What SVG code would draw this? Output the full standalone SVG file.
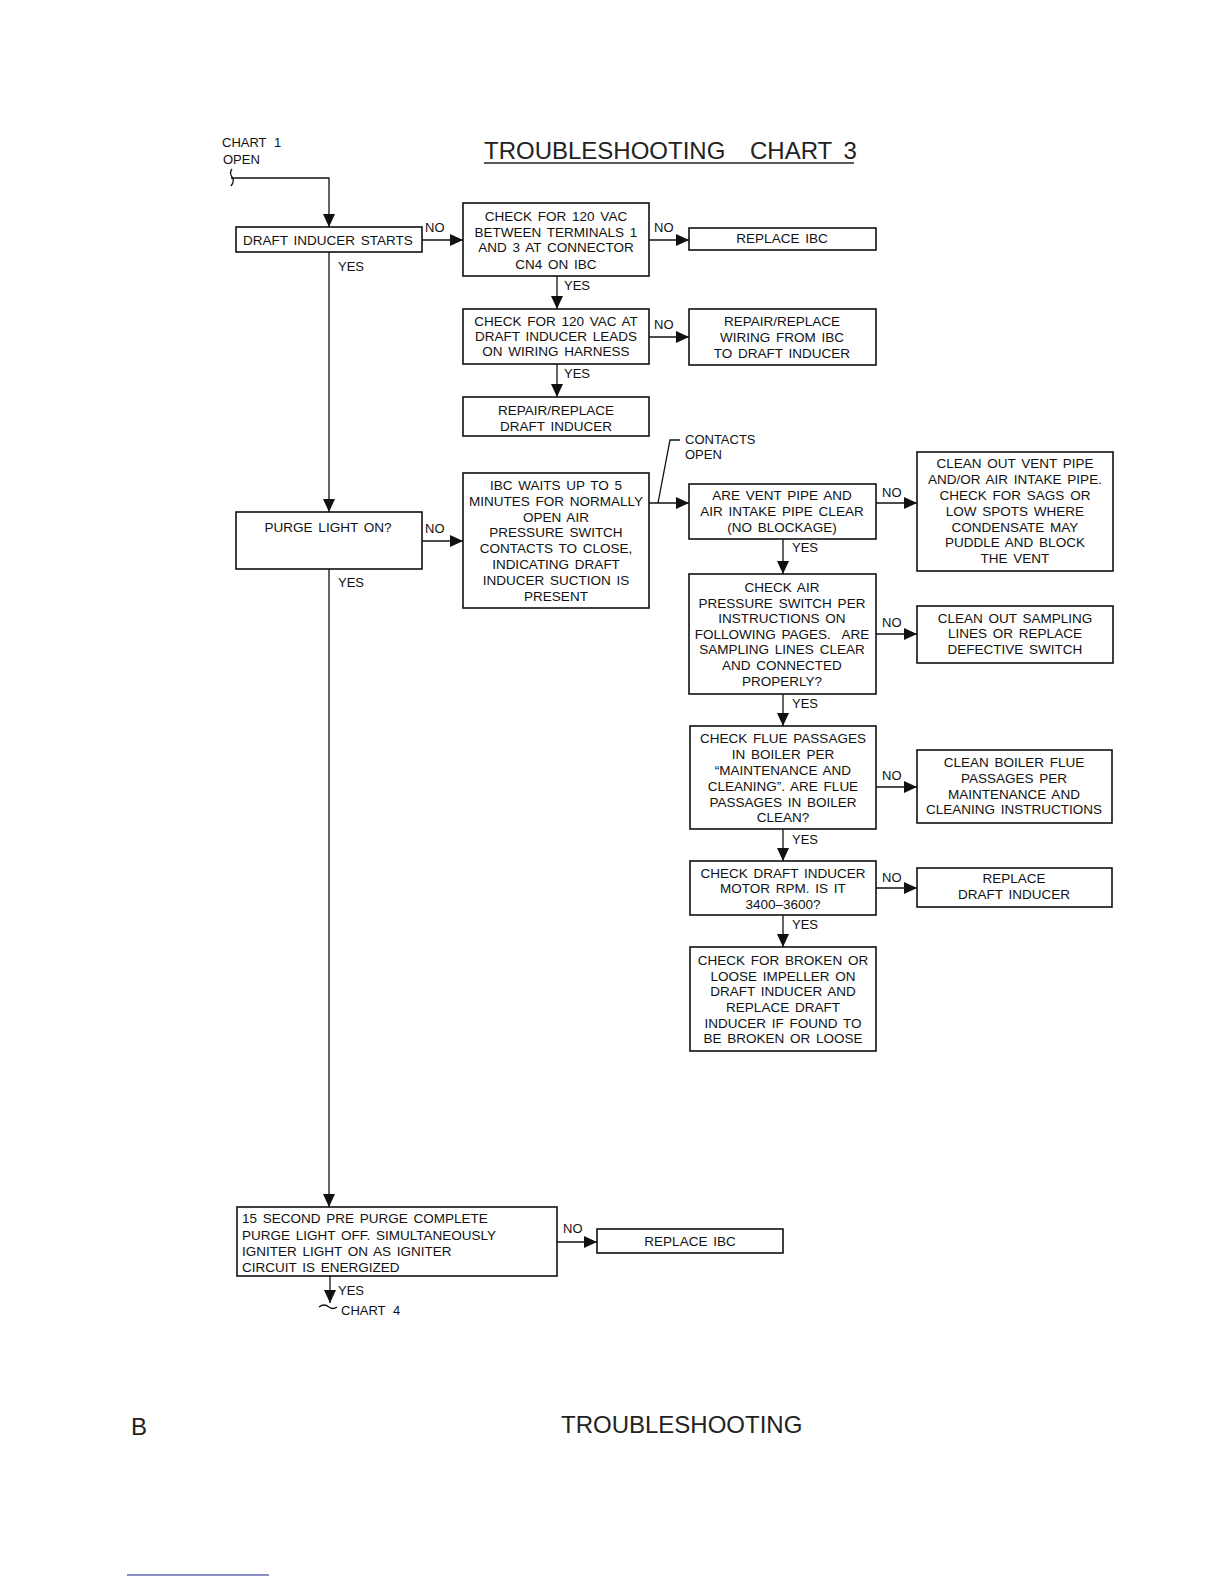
<svg xmlns="http://www.w3.org/2000/svg" width="1224" height="1584" viewBox="0 0 1224 1584">
<style>
.bg{fill:#fff}
.box{fill:none;stroke:#111;stroke-width:1.6}
.t{font-family:"Liberation Sans",Arial,sans-serif;font-size:13.5px;fill:#111;text-anchor:middle;word-spacing:2px}
.tl{font-family:"Liberation Sans",Arial,sans-serif;font-size:13.5px;fill:#111;text-anchor:start;word-spacing:2px}
.lbl{font-family:"Liberation Sans",Arial,sans-serif;font-size:13px;fill:#111;text-anchor:start;word-spacing:4px}
.c{stroke:#111;stroke-width:1.3;fill:none}
.title{font-family:"Liberation Sans",Arial,sans-serif;font-size:24px;fill:#222}
.foot{font-family:"Liberation Sans",Arial,sans-serif;font-size:24px;fill:#222}
</style>
<defs>
<marker id="arr" markerUnits="userSpaceOnUse" markerWidth="13" markerHeight="12" refX="13" refY="6" orient="auto">
<path d="M0,0 L13,6 L0,12 Z" fill="#111"/>
</marker>
</defs>
<rect class="bg" x="0" y="0" width="1224" height="1584"/>

<g id="title">
<text class="title" x="484" y="159">TROUBLESHOOTING</text>
<text class="title" x="750" y="159" word-spacing="5">CHART 3</text>
<line x1="484" y1="163" x2="854" y2="163" stroke="#222" stroke-width="1.5"/>
</g>

<g id="connectors">
<path class="c" d="M231,178 L329,178 L329,227" marker-end="url(#arr)"/>
<path class="c" d="M232,169 q-3,4 0,8 q3,4 -1,9"/>
<path class="c" d="M329,252 L329,512" marker-end="url(#arr)"/>
<path class="c" d="M329,569 L329,1207" marker-end="url(#arr)"/>
<path class="c" d="M422,240 L463,240" marker-end="url(#arr)"/>
<path class="c" d="M649,240 L689,240" marker-end="url(#arr)"/>
<path class="c" d="M557,276 L557,309" marker-end="url(#arr)"/>
<path class="c" d="M649,337 L689,337" marker-end="url(#arr)"/>
<path class="c" d="M557,364 L557,397" marker-end="url(#arr)"/>
<path class="c" d="M422,541 L463,541" marker-end="url(#arr)"/>
<path class="c" d="M649,503 L689,503" marker-end="url(#arr)"/>
<path class="c" d="M658,503 L670,440 L680,440"/>
<path class="c" d="M876,503 L917,503" marker-end="url(#arr)"/>
<path class="c" d="M783,539 L783,574" marker-end="url(#arr)"/>
<path class="c" d="M876,634 L917,634" marker-end="url(#arr)"/>
<path class="c" d="M783,694 L783,726" marker-end="url(#arr)"/>
<path class="c" d="M876,787 L917,787" marker-end="url(#arr)"/>
<path class="c" d="M783,829 L783,861" marker-end="url(#arr)"/>
<path class="c" d="M876,888 L917,888" marker-end="url(#arr)"/>
<path class="c" d="M783,915 L783,947" marker-end="url(#arr)"/>
<path class="c" d="M557,1242 L597,1242" marker-end="url(#arr)"/>
<path class="c" d="M330,1276 L330,1303" marker-end="url(#arr)"/>
<path class="c" d="M319,1307 q5,-4 10,0 q4,3 8,0"/>
</g>

<g id="labels">
<text class="lbl" x="222" y="147">CHART 1</text>
<text class="lbl" x="223" y="164">OPEN</text>
<text class="lbl" x="425" y="232">NO</text>
<text class="lbl" x="654" y="232">NO</text>
<text class="lbl" x="654" y="329">NO</text>
<text class="lbl" x="425" y="533">NO</text>
<text class="lbl" x="882" y="497">NO</text>
<text class="lbl" x="882" y="627">NO</text>
<text class="lbl" x="882" y="780">NO</text>
<text class="lbl" x="882" y="882">NO</text>
<text class="lbl" x="563" y="1233">NO</text>
<text class="lbl" x="338" y="271">YES</text>
<text class="lbl" x="564" y="290">YES</text>
<text class="lbl" x="564" y="378">YES</text>
<text class="lbl" x="338" y="587">YES</text>
<text class="lbl" x="792" y="552">YES</text>
<text class="lbl" x="792" y="708">YES</text>
<text class="lbl" x="792" y="844">YES</text>
<text class="lbl" x="792" y="929">YES</text>
<text class="lbl" x="338" y="1295">YES</text>
<text class="lbl" x="341" y="1315">CHART 4</text>
<text class="lbl" x="685" y="444">CONTACTS</text>
<text class="lbl" x="685" y="459">OPEN</text>
</g>

<g id="n_draft">
<rect class="box" x="236" y="227" width="186" height="25"/>
<text class="t" x="328" y="245">DRAFT INDUCER STARTS</text>
</g>
<g id="n_check120">
<rect class="box" x="463" y="203" width="186" height="73"/>
<text class="t" x="556" y="221">CHECK FOR 120 VAC</text>
<text class="t" x="556" y="237">BETWEEN TERMINALS 1</text>
<text class="t" x="556" y="252">AND 3 AT CONNECTOR</text>
<text class="t" x="556" y="269">CN4 ON IBC</text>
</g>
<g id="n_replace_ibc1">
<rect class="box" x="689" y="228" width="187" height="22"/>
<text class="t" x="782" y="243">REPLACE IBC</text>
</g>
<g id="n_check_leads">
<rect class="box" x="463" y="309" width="186" height="55"/>
<text class="t" x="556" y="326">CHECK FOR 120 VAC AT</text>
<text class="t" x="556" y="341">DRAFT INDUCER LEADS</text>
<text class="t" x="556" y="356">ON WIRING HARNESS</text>
</g>
<g id="n_repair_wiring">
<rect class="box" x="689" y="309" width="187" height="56"/>
<text class="t" x="782" y="326">REPAIR/REPLACE</text>
<text class="t" x="782" y="342">WIRING FROM IBC</text>
<text class="t" x="782" y="358">TO DRAFT INDUCER</text>
</g>
<g id="n_repair_inducer">
<rect class="box" x="463" y="397" width="186" height="39"/>
<text class="t" x="556" y="415">REPAIR/REPLACE</text>
<text class="t" x="556" y="431">DRAFT INDUCER</text>
</g>
<g id="n_purge">
<rect class="box" x="236" y="512" width="186" height="57"/>
<text class="t" x="328" y="532">PURGE LIGHT ON?</text>
</g>
<g id="n_ibc_waits">
<rect class="box" x="463" y="473" width="186" height="135"/>
<text class="t" x="556" y="490">IBC WAITS UP TO 5</text>
<text class="t" x="556" y="506">MINUTES FOR NORMALLY</text>
<text class="t" x="556" y="522">OPEN AIR</text>
<text class="t" x="556" y="537">PRESSURE SWITCH</text>
<text class="t" x="556" y="553">CONTACTS TO CLOSE,</text>
<text class="t" x="556" y="569">INDICATING DRAFT</text>
<text class="t" x="556" y="585">INDUCER SUCTION IS</text>
<text class="t" x="556" y="601">PRESENT</text>
</g>
<g id="n_vent_clear">
<rect class="box" x="689" y="484" width="187" height="55"/>
<text class="t" x="782" y="500">ARE VENT PIPE AND</text>
<text class="t" x="782" y="516">AIR INTAKE PIPE CLEAR</text>
<text class="t" x="782" y="532">(NO BLOCKAGE)</text>
</g>
<g id="n_clean_vent">
<rect class="box" x="917" y="452" width="196" height="119"/>
<text class="t" x="1015" y="468">CLEAN OUT VENT PIPE</text>
<text class="t" x="1015" y="484">AND/OR AIR INTAKE PIPE.</text>
<text class="t" x="1015" y="500">CHECK FOR SAGS OR</text>
<text class="t" x="1015" y="516">LOW SPOTS WHERE</text>
<text class="t" x="1015" y="532">CONDENSATE MAY</text>
<text class="t" x="1015" y="547">PUDDLE AND BLOCK</text>
<text class="t" x="1015" y="563">THE VENT</text>
</g>
<g id="n_check_air">
<rect class="box" x="689" y="574" width="187" height="120"/>
<text class="t" x="782" y="592">CHECK AIR</text>
<text class="t" x="782" y="608">PRESSURE SWITCH PER</text>
<text class="t" x="782" y="623">INSTRUCTIONS ON</text>
<text class="t" x="782" y="639">FOLLOWING PAGES.&#160; ARE</text>
<text class="t" x="782" y="654">SAMPLING LINES CLEAR</text>
<text class="t" x="782" y="670">AND CONNECTED</text>
<text class="t" x="782" y="686">PROPERLY?</text>
</g>
<g id="n_clean_sampling">
<rect class="box" x="917" y="606" width="196" height="57"/>
<text class="t" x="1015" y="623">CLEAN OUT SAMPLING</text>
<text class="t" x="1015" y="638">LINES OR REPLACE</text>
<text class="t" x="1015" y="654">DEFECTIVE SWITCH</text>
</g>
<g id="n_check_flue">
<rect class="box" x="690" y="726" width="186" height="103"/>
<text class="t" x="783" y="743">CHECK FLUE PASSAGES</text>
<text class="t" x="783" y="759">IN BOILER PER</text>
<text class="t" x="783" y="775">“MAINTENANCE AND</text>
<text class="t" x="783" y="791">CLEANING”. ARE FLUE</text>
<text class="t" x="783" y="807">PASSAGES IN BOILER</text>
<text class="t" x="783" y="822">CLEAN?</text>
</g>
<g id="n_clean_boiler">
<rect class="box" x="917" y="750" width="195" height="73"/>
<text class="t" x="1014" y="767">CLEAN BOILER FLUE</text>
<text class="t" x="1014" y="783">PASSAGES PER</text>
<text class="t" x="1014" y="799">MAINTENANCE AND</text>
<text class="t" x="1014" y="814">CLEANING INSTRUCTIONS</text>
</g>
<g id="n_check_motor">
<rect class="box" x="690" y="861" width="186" height="54"/>
<text class="t" x="783" y="878">CHECK DRAFT INDUCER</text>
<text class="t" x="783" y="893">MOTOR RPM. IS IT</text>
<text class="t" x="783" y="909">3400–3600?</text>
</g>
<g id="n_replace_inducer">
<rect class="box" x="917" y="868" width="195" height="39"/>
<text class="t" x="1014" y="883">REPLACE</text>
<text class="t" x="1014" y="899">DRAFT INDUCER</text>
</g>
<g id="n_broken">
<rect class="box" x="690" y="947" width="186" height="104"/>
<text class="t" x="783" y="965">CHECK FOR BROKEN OR</text>
<text class="t" x="783" y="981">LOOSE IMPELLER ON</text>
<text class="t" x="783" y="996">DRAFT INDUCER AND</text>
<text class="t" x="783" y="1012">REPLACE DRAFT</text>
<text class="t" x="783" y="1028">INDUCER IF FOUND TO</text>
<text class="t" x="783" y="1043">BE BROKEN OR LOOSE</text>
</g>
<g id="n_precomplete">
<rect class="box" x="237" y="1207" width="320" height="69"/>
<text class="tl" x="242" y="1223">15 SECOND PRE PURGE COMPLETE</text>
<text class="tl" x="242" y="1240">PURGE LIGHT OFF. SIMULTANEOUSLY</text>
<text class="tl" x="242" y="1256">IGNITER LIGHT ON AS IGNITER</text>
<text class="tl" x="242" y="1272">CIRCUIT IS ENERGIZED</text>
</g>
<g id="n_replace_ibc2">
<rect class="box" x="597" y="1229" width="186" height="24"/>
<text class="t" x="690" y="1246">REPLACE IBC</text>
</g>

<g id="footer">
<text class="foot" x="131" y="1435" font-size="23">B</text>
<text class="foot" x="561" y="1433">TROUBLESHOOTING</text>
<line x1="127" y1="1575" x2="269" y2="1575" stroke="#1a1a8a" stroke-width="1.2"/>
</g>
</svg>
